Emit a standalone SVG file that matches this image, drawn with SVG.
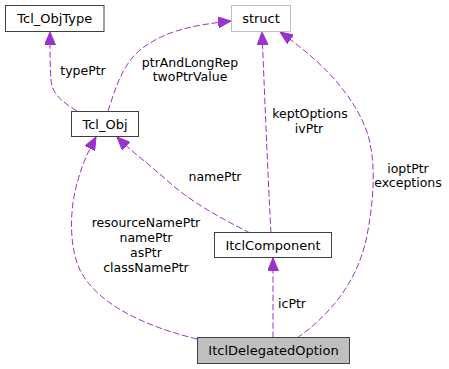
<svg xmlns="http://www.w3.org/2000/svg" width="449" height="369" viewBox="0 0 449 369">
  <style>
    .box { fill: #ffffff; stroke: #404040; stroke-width: 1; }
    .ext { fill: #ffffff; stroke: #bfbfbf; stroke-width: 1; }
    .cur { fill: #bfbfbf; stroke: #404040; stroke-width: 1; }
    .edge { fill: none; stroke: #9a32cd; stroke-width: 1; stroke-dasharray: 6.5,2.7; marker-end: url(#arrow); }
    text { font-family: "DejaVu Sans", sans-serif; font-size: 12.5px; fill: #000000; }
    .nm { text-anchor: middle; font-size: 13px; }
    .lb { text-anchor: middle; }
  </style>
  <defs>
    <marker id="arrow" markerUnits="userSpaceOnUse" markerWidth="13" markerHeight="11" refX="13" refY="5.5" orient="auto">
      <path d="M0,0 L13,5.5 L0,11 z" fill="#9a32cd" stroke="#9a32cd" stroke-width="1"/>
    </marker>
  </defs>

  <g id="edges">
    <!-- Tcl_Obj -> Tcl_ObjType -->
    <path class="edge" d="M77,111 C64,103 52,95 51,80 C50,68 50,50 50,32"/>
    <!-- Tcl_Obj -> struct -->
    <path class="edge" d="M108,111 C115,90 122,65 140,50 C165,30 195,25 231,21"/>
    <!-- ItclComponent -> struct -->
    <path class="edge" d="M271,233 C268,180 264,80 262,32"/>
    <!-- ItclComponent -> Tcl_Obj -->
    <path class="edge" d="M250,233 C225,220 195,205 170,183 C150,165 132,152 117,137"/>
    <!-- ItclDelegatedOption -> ItclComponent -->
    <path class="edge" d="M273,338 L273,258"/>
    <!-- ItclDelegatedOption -> Tcl_Obj -->
    <path class="edge" d="M197,339 C160,330 100,310 80,270 C68,245 70,205 78,180 C83,162 89,150 96,137"/>
    <!-- ItclDelegatedOption -> struct -->
    <path class="edge" d="M297,338 C330,315 360,280 368,230 C375,190 375,160 368,135 C355,95 320,60 280,32"/>

    <text class="lb" x="83" y="75">typePtr</text>
    <text class="lb" x="190" y="67">ptrAndLongRep</text>
    <text class="lb" x="190" y="81">twoPtrValue</text>
    <text class="lb" x="310" y="118">keptOptions</text>
    <text class="lb" x="309" y="133">ivPtr</text>
    <text class="lb" x="215" y="181">namePtr</text>
    <text class="lb" x="146" y="227">resourceNamePtr</text>
    <text class="lb" x="146" y="242">namePtr</text>
    <text class="lb" x="146" y="257">asPtr</text>
    <text class="lb" x="146" y="272">classNamePtr</text>
    <text class="lb" x="408" y="173">ioptPtr</text>
    <text class="lb" x="408" y="187">exceptions</text>
    <text class="lb" x="292" y="308">icPtr</text>
  </g>

  <g id="node-tcl-objtype">
    <rect class="box" x="5.5" y="5.5" width="98.5" height="26"/>
    <text class="nm" x="54.75" y="23">Tcl_ObjType</text>
  </g>
  <g id="node-struct">
    <rect class="ext" x="231.5" y="5.5" width="59" height="26"/>
    <text class="nm" x="261" y="23">struct</text>
  </g>
  <g id="node-tcl-obj">
    <rect class="box" x="71.5" y="111.5" width="67" height="25"/>
    <text class="nm" x="105" y="128.5">Tcl_Obj</text>
  </g>
  <g id="node-itcl-component">
    <rect class="box" x="214.5" y="232.5" width="117" height="25"/>
    <text class="nm" x="273" y="249.5">ItclComponent</text>
  </g>
  <g id="node-itcl-delegated-option">
    <rect class="cur" x="197.5" y="337.5" width="152" height="26"/>
    <text class="nm" x="273.5" y="355">ItclDelegatedOption</text>
  </g>
</svg>
